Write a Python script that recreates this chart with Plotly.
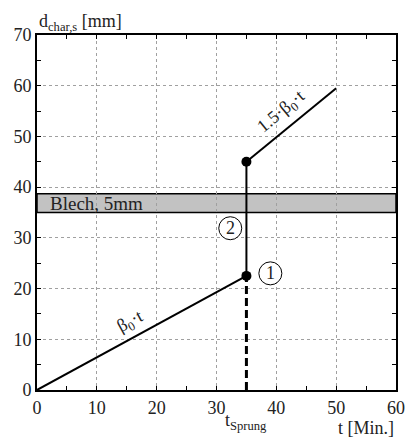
import plotly.graph_objects as go

# Schematic burn-depth growth: linear rate beta0*t until t_Sprung, then a jump and 1.5*beta0*t
t_phase1 = [0, 35]
d_phase1 = [0, 22.5]
t_jump = [35, 35]
d_jump = [22.5, 45]
t_phase2 = [35, 50]
d_phase2 = [45, 59.5]
t_guide = [35, 35]
d_guide = [0, 22.5]
t_points = [35, 35]
d_points = [22.5, 45]

band_low, band_high = 35, 38.7
x_ticks = [0, 10, 20, 30, 40, 50, 60]
y_ticks = [0, 10, 20, 30, 40, 50, 60, 70]

FONT = "Times New Roman, Liberation Serif, serif"
black = "#000000"
txt = "#222222"

fig = go.Figure()

# plate band
fig.add_shape(type="rect", xref="x", yref="y", x0=0, x1=60, y0=band_low, y1=band_high,
              fillcolor="#c2c2c2", line=dict(color=black, width=1.5), layer="below")

fig.add_trace(go.Scatter(x=t_guide, y=d_guide, mode="lines",
                         line=dict(color=black, width=3, dash="8px,4px")))
fig.add_trace(go.Scatter(x=t_phase1, y=d_phase1, mode="lines", line=dict(color=black, width=2)))
fig.add_trace(go.Scatter(x=t_jump, y=d_jump, mode="lines", line=dict(color=black, width=2)))
fig.add_trace(go.Scatter(x=t_phase2, y=d_phase2, mode="lines", line=dict(color=black, width=2)))
fig.add_trace(go.Scatter(x=t_points, y=d_points, mode="markers",
                         marker=dict(color=black, size=10)))

axis_common = dict(showline=True, linecolor=black, linewidth=2, mirror="ticks",
                   ticks="inside", ticklen=4, tickcolor=black, tickwidth=1,
                   showgrid=True, gridcolor="#a0a0a0", griddash="dot", gridwidth=1,
                   zeroline=False, automargin=False,
                   tickfont=dict(family=FONT, size=18, color=txt),
                   minor=dict(dtick=5, ticks="inside", ticklen=4, tickcolor=black, showgrid=False))

fig.update_xaxes(range=[0, 60], tickvals=x_ticks, **axis_common)
fig.update_yaxes(range=[0, 70], tickvals=y_ticks, **axis_common)

ann = []
ann.append(dict(x=0, y=1, xref="paper", yref="paper", xanchor="left", yanchor="bottom",
                text="d<sub>char,s</sub> [mm]", showarrow=False, yshift=-1,
                font=dict(family=FONT, size=18, color=txt)))
ann.append(dict(x=60, y=0, xref="x", yref="paper", xanchor="right", yanchor="top",
                text="t [Min.]", showarrow=False, yshift=-26,
                font=dict(family=FONT, size=18, color=txt)))
ann.append(dict(x=35, y=0, xref="x", yref="paper", xanchor="center", yanchor="top",
                text="t<sub>Sprung</sub>", showarrow=False, yshift=-18,
                font=dict(family=FONT, size=18, color=txt)))
ann.append(dict(x=1.8, y=(band_low + band_high) / 2, xref="x", yref="y", xanchor="left",
                yanchor="middle", text="Blech, 5mm", showarrow=False,
                font=dict(family=FONT, size=19, color=txt)))
ann.append(dict(x=15.5, y=13.4, xref="x", yref="y", text="β<sub>0</sub>·t", showarrow=False,
                textangle=-28.6, font=dict(family=FONT, size=18, color=txt)))
ann.append(dict(x=40.8, y=54.8, xref="x", yref="y", text="1.5·β<sub>0</sub>·t", showarrow=False,
                textangle=-39.5, font=dict(family=FONT, size=18, color=txt)))

# circled markers
for label, cx, cy in [("1", 39.0, 23.0), ("2", 32.3, 31.9)]:
    fig.add_shape(type="circle", xref="x", yref="y", xsizemode="pixel", ysizemode="pixel",
                  xanchor=cx, yanchor=cy, x0=-11.5, x1=11.5, y0=-11.5, y1=11.5,
                  line=dict(color=black, width=1), fillcolor="white")
    ann.append(dict(x=cx, y=cy, xref="x", yref="y", text=label, showarrow=False,
                    font=dict(family=FONT, size=18, color=txt)))

fig.update_layout(width=406, height=439, margin=dict(l=37, r=10, t=35, b=49),
                  plot_bgcolor="white", paper_bgcolor="white", showlegend=False,
                  annotations=ann)

fig.write_html("out.html")
